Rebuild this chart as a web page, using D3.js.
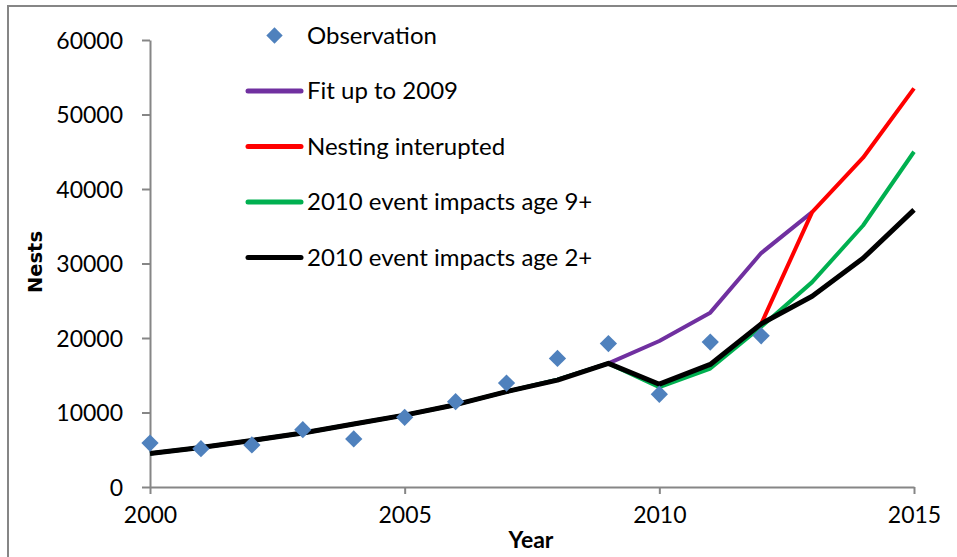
<!DOCTYPE html>
<html>
<head>
<meta charset="utf-8">
<script src="https://cdn.jsdelivr.net/npm/d3@7"></script>
<style>
  html, body { margin: 0; padding: 0; background: #fff; }
  svg { display: block; }
  text { font-family: Lato, "Open Sans", sans-serif; fill: #000; }
</style>
</head>
<body>
<svg id="chart" width="957" height="557"></svg>
<script>
// ---- data ----
const years = [2000, 2001, 2002, 2003, 2004, 2005, 2006, 2007, 2008, 2009, 2010, 2011, 2012, 2013, 2014, 2015];
const observation = [5900, 5150, 5650, 7700, 6450, 9350, 11450, 13950, 17250, 19250, 12450, 19450, 20300];
const fitUpTo2009 = [4500, 5300, 6250, 7250, 8450, 9650, 11050, 12800, 14400, 16600, 19600, 23400, 31400, 36900];
const nestingInterupted = [null, null, null, null, null, null, null, null, null, null, null, null, 21900, 36900, 44200, 53500];
const impactsAge9 = [4500, 5300, 6250, 7250, 8450, 9650, 11050, 12800, 14400, 16600, 13400, 15900, 21500, 27500, 35100, 45000];
const impactsAge2 = [4500, 5300, 6250, 7250, 8450, 9650, 11050, 12800, 14350, 16600, 13800, 16450, 21900, 25600, 30700, 37200];
const xTicks = [2000, 2005, 2010, 2015];
const yTicks = [0, 10000, 20000, 30000, 40000, 50000, 60000];

const series = [
  { name: "Fit up to 2009", values: fitUpTo2009, color: "#7030A0", width: 4 },
  { name: "Nesting interupted", values: nestingInterupted, color: "#FF0000", width: 4 },
  { name: "2010 event impacts age 9+", values: impactsAge9, color: "#00B050", width: 4 },
  { name: "2010 event impacts age 2+", values: impactsAge2, color: "#000000", width: 5 }
];

// ---- layout ----
const svg = d3.select("#chart");
const x = d3.scaleLinear().domain([2000, 2015]).range([150, 914]);
const y = d3.scaleLinear().domain([0, 60000]).range([487, 40]);
const axisColor = "#868686";

// outer frame
svg.append("rect").attr("x", 8).attr("y", 6).attr("width", 960).attr("height", 560)
  .attr("fill", "none").attr("stroke", axisColor).attr("stroke-width", 2);

// y axis
const yAxis = svg.append("g").attr("transform", "translate(150,0)")
  .call(d3.axisLeft(y).tickValues(yTicks).tickFormat(d3.format("d")).tickSize(8).tickPadding(19).tickSizeOuter(0));
// x axis
const xAxis = svg.append("g").attr("transform", "translate(0,487)")
  .call(d3.axisBottom(x).tickValues(xTicks).tickFormat(d3.format("d")).tickSize(7).tickPadding(13).tickSizeOuter(0));

[yAxis, xAxis].forEach(g => {
  g.select(".domain").attr("stroke", axisColor).attr("stroke-width", 2);
  g.selectAll(".tick line").attr("stroke", axisColor).attr("stroke-width", 2);
  g.selectAll(".tick text").attr("font-size", 23).attr("fill", "#000");
});
yAxis.selectAll(".tick text").attr("dy", "0.36em");

// axis titles
svg.append("text").attr("x", 531).attr("y", 548).attr("text-anchor", "middle")
  .attr("font-size", 23).attr("font-weight", "bold").text("Year");
svg.append("text").attr("transform", "translate(42,262) rotate(-90)").attr("text-anchor", "middle")
  .style("font-family", "'DejaVu Sans', sans-serif")
  .attr("font-size", 19.5).attr("font-weight", "bold").text("Nests");

// lines
const line = d3.line()
  .defined(d => d[1] !== null && d[1] !== undefined)
  .x(d => x(d[0])).y(d => y(d[1]));

series.forEach(s => {
  const pts = years.map((yr, i) => [yr, i < s.values.length ? s.values[i] : null]);
  svg.append("path").datum(pts).attr("d", line)
    .attr("fill", "none").attr("stroke", s.color).attr("stroke-width", s.width)
    .attr("stroke-linejoin", "round").attr("stroke-linecap", "butt");
});

// observation diamonds
const diamond = d3.symbol().type(d3.symbolDiamond2).size(190);
svg.append("g").selectAll("path").data(observation).join("path")
  .attr("d", diamond)
  .attr("transform", (d, i) => `translate(${x(years[i])},${y(d)})`)
  .attr("fill", "#4F81BD");

// legend
const leg = svg.append("g");
leg.append("path").attr("d", d3.symbol().type(d3.symbolDiamond2).size(170))
  .attr("transform", "translate(274.5,35.5)").attr("fill", "#4F81BD");
leg.append("text").attr("x", 307).attr("y", 35.5).attr("dy", "0.35em")
  .attr("font-size", 24).text("Observation");
const legY = [91, 146.5, 202, 257.5];
series.forEach((s, i) => {
  leg.append("line").attr("x1", 248).attr("x2", 301).attr("y1", legY[i]).attr("y2", legY[i])
    .attr("stroke", s.color).attr("stroke-width", 5).attr("stroke-linecap", "round");
  leg.append("text").attr("x", 307).attr("y", legY[i]).attr("dy", "0.35em")
    .attr("font-size", 24).text(s.name);
});
</script>
</body>
</html>
